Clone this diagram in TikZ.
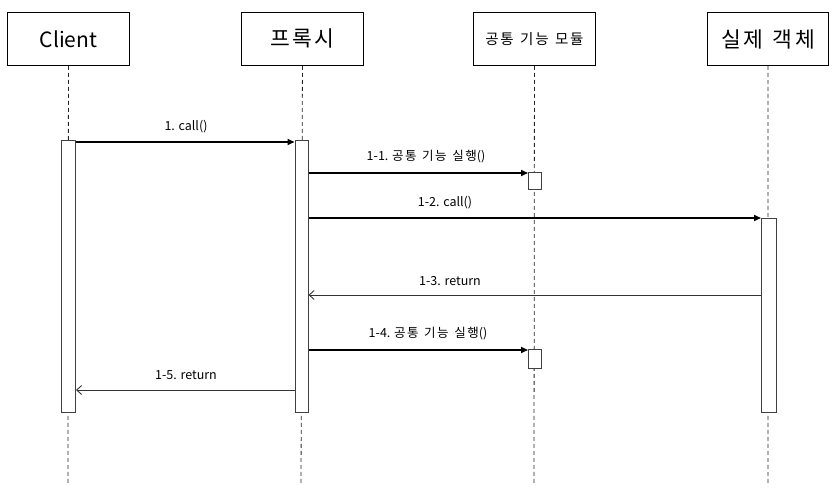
\documentclass[tikz,border=0pt]{standalone}
\usepackage{fontspec}
\setmainfont{Noto Sans CJK KR}
\newfontfamily\kr{Noto Sans CJK KR}[LetterSpace=12,WordSpace=1.3]
\usetikzlibrary{arrows.meta}
\begin{document}
\begin{tikzpicture}[x=1pt,y=-1pt,
  actor/.style={draw=black,line width=0.9pt,fill=white,minimum width=122pt,minimum height=53pt,inner sep=0pt,anchor=north west},
  life/.style={draw=black!85,line width=0.8pt,dash pattern=on 4pt off 3pt},
  bar/.style={draw=black!75,line width=1pt,fill=white,inner sep=0pt,anchor=north west},
  call/.style={draw=black,line width=1.6pt,-{Triangle[length=7pt,width=6pt]}},
  ret/.style={draw=black!80,line width=0.9pt,-{Straight Barb[length=5pt,width=9pt]}},
  lbl/.style={font=\fontsize{12.5}{14}\selectfont,inner sep=0pt}]
\useasboundingbox (0,0) rectangle (836,492);
% actors
\node[actor] (c) at (7,12) {\fontsize{21}{24}\selectfont Client};
\node[actor] (p) at (241,12) {\fontsize{21.5}{24}\selectfont\kr 프록시};
\node[actor] (m) at (473,12) {\fontsize{14.5}{16}\selectfont\kr 공통 기능 모듈};
\node[actor,minimum width=121pt] (r) at (707,12) {\fontsize{21.5}{24}\selectfont\kr 실제 객체};
% lifeline ends
\coordinate (ce) at (68,483);
\coordinate (pe) at (301,483);
\coordinate (me) at (534,483);
\coordinate (re) at (768,483);
\draw[life] (c.south) -- (ce);
\draw[life] (p.south) -- (pe);
\draw[life] (m.south) -- (me);
\draw[life] (r.south) -- (re);
% activation bars
\node[bar,minimum width=14pt,minimum height=272pt] (cb) at (61,140) {};
\node[bar,minimum width=13pt,minimum height=272pt] (pb) at (294.5,140) {};
\node[bar,minimum width=13pt,minimum height=17pt] (mb1) at (528,172) {};
\node[bar,minimum width=13pt,minimum height=19pt] (mb2) at (528,349) {};
\node[bar,minimum width=15pt,minimum height=194pt] (rb) at (761,218) {};
% messages
\draw[call] (cb.east |- 0,142) -- (pb.west |- 0,142);
\node[lbl] at (186,127) {1. call()};
\draw[call] (pb.east |- 0,173) -- (mb1.west |- 0,173);
\node[lbl] at (426,157) {1-1. {\kr 공통 기능 실행}()};
\draw[call] (pb.east |- 0,218) -- (rb.west |- 0,218);
\node[lbl] at (445,203) {1-2. call()};
\draw[ret] (rb.west |- 0,295) -- (pb.east |- 0,295);
\node[lbl] at (450,281) {1-3. return};
\draw[call] (pb.east |- 0,350) -- (mb2.west |- 0,350);
\node[lbl] at (428,334) {1-4. {\kr 공통 기능 실행}()};
\draw[ret] (pb.west |- 0,390) -- (cb.east |- 0,390);
\node[lbl] at (186,375) {1-5. return};
\end{tikzpicture}
\end{document}
